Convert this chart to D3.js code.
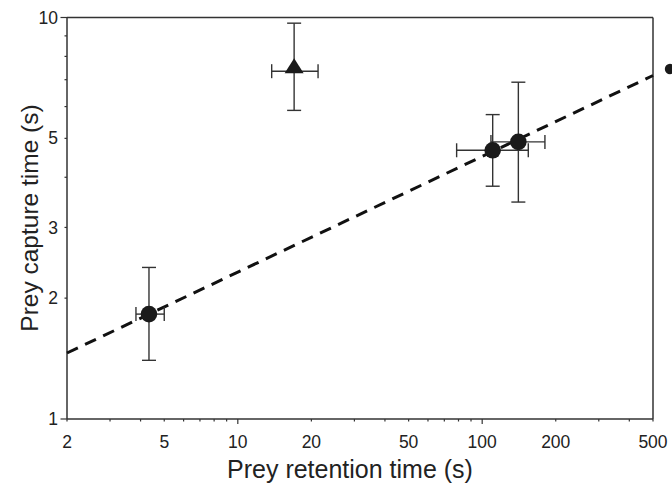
<!DOCTYPE html>
<html>
<head>
<meta charset="utf-8">
<script src="https://cdn.jsdelivr.net/npm/d3@7"></script>
<style>
  html, body { margin: 0; padding: 0; background: #fff; }
  svg { display: block; }
  text { font-family: "Liberation Sans", Arial, sans-serif; fill: #222; }
</style>
</head>
<body>
<svg id="chart" width="672" height="487"></svg>
<script>
// ---- data ----
const seriesNames = ["circle", "circle", "circle", "triangle"];
const retention = [4.33, 110.4, 140.6, 17.0];
const retentionLow = [3.83, 78.6, 108.6, 13.76];
const retentionHigh = [5.0, 154.4, 180.6, 21.3];
const capture = [1.825, 4.67, 4.90, 7.35];
const captureLow = [1.40, 3.80, 3.47, 5.87];
const captureHigh = [2.385, 5.73, 6.90, 9.68];
const fitX = [2, 500];
const fitY = [1.46, 7.17];
const xTickLabels = [2, 5, 10, 20, 50, 100, 200, 500];
const yTickLabels = [1, 2, 3, 5, 10];
const xTitle = "Prey retention time (s)";
const yTitle = "Prey capture time (s)";

// ---- layout ----
const svg = d3.select("#chart");
const L = 67, R = 653, T = 17.5, B = 419;
const x = d3.scaleLog().domain([2, 500]).range([L, R]);
const y = d3.scaleLog().domain([1, 10]).range([B, T]);
const axisColor = "#333";

// minor tick values
const xMinor = [];
[1, 10, 100].forEach(d => { for (let k = 2; k <= 9; k++) { const v = d * k; if (v >= 2 && v <= 500) xMinor.push(v); } });
const xMajor = [10, 100];
const yMinor = [2, 3, 4, 5, 6, 7, 8, 9];
const yMajor = [1, 10];

// frame top and right
svg.append("line").attr("x1", L).attr("x2", R).attr("y1", T).attr("y2", T)
  .attr("stroke", axisColor).attr("stroke-width", 1.5);
svg.append("line").attr("x1", R).attr("x2", R).attr("y1", T).attr("y2", B)
  .attr("stroke", axisColor).attr("stroke-width", 1.5);

// x axis
const gx = svg.append("g").attr("transform", `translate(0,${B})`);
gx.append("line").attr("x1", L).attr("x2", R).attr("stroke", axisColor).attr("stroke-width", 1.5);
gx.selectAll(".xmin").data(xMinor).join("line")
  .attr("x1", d => x(d)).attr("x2", d => x(d)).attr("y1", 0).attr("y2", 2.5)
  .attr("stroke", axisColor).attr("stroke-width", 1.2);
gx.selectAll(".xmaj").data(xMajor).join("line")
  .attr("x1", d => x(d)).attr("x2", d => x(d)).attr("y1", 0).attr("y2", 5)
  .attr("stroke", axisColor).attr("stroke-width", 1.2);
gx.selectAll(".xlab").data(xTickLabels).join("text")
  .attr("x", d => x(d)).attr("y", 29).attr("text-anchor", "middle")
  .attr("font-size", 17.5).text(d => d);

// y axis
const gy = svg.append("g").attr("transform", `translate(${L},0)`);
gy.append("line").attr("y1", T).attr("y2", B).attr("stroke", axisColor).attr("stroke-width", 1.5);
gy.selectAll(".ymin").data(yMinor).join("line")
  .attr("y1", d => y(d)).attr("y2", d => y(d)).attr("x1", 0).attr("x2", -2.5)
  .attr("stroke", axisColor).attr("stroke-width", 1.2);
gy.selectAll(".ymaj").data(yMajor).join("line")
  .attr("y1", d => y(d)).attr("y2", d => y(d)).attr("x1", 0).attr("x2", -6.5)
  .attr("stroke", axisColor).attr("stroke-width", 1.2);
gy.selectAll(".ylab").data(yTickLabels).join("text")
  .attr("x", -9).attr("y", d => y(d)).attr("dy", "0.35em").attr("text-anchor", "end")
  .attr("font-size", 17.5).text(d => d);

// titles
svg.append("text").attr("x", 350).attr("y", 478).attr("text-anchor", "middle")
  .attr("font-size", 25).text(xTitle);
svg.append("text").attr("transform", `translate(38,218) rotate(-90)`)
  .attr("text-anchor", "middle").attr("font-size", 24.5).text(yTitle);

// regression line
svg.append("line")
  .attr("x1", x(fitX[0])).attr("y1", y(fitY[0]))
  .attr("x2", x(fitX[1])).attr("y2", y(fitY[1]))
  .attr("stroke", "#111").attr("stroke-width", 3).attr("stroke-dasharray", "12,8");

// error bars & markers
const pts = retention.map((v, i) => ({
  shape: seriesNames[i], x: v, xl: retentionLow[i], xh: retentionHigh[i],
  y: capture[i], yl: captureLow[i], yh: captureHigh[i]
}));
const cap = 7;
const eg = svg.append("g").attr("stroke", "#333").attr("stroke-width", 1.4);
pts.forEach(p => {
  eg.append("line").attr("x1", x(p.x)).attr("x2", x(p.x)).attr("y1", y(p.yl)).attr("y2", y(p.yh));
  eg.append("line").attr("x1", x(p.x) - cap).attr("x2", x(p.x) + cap).attr("y1", y(p.yl)).attr("y2", y(p.yl));
  eg.append("line").attr("x1", x(p.x) - cap).attr("x2", x(p.x) + cap).attr("y1", y(p.yh)).attr("y2", y(p.yh));
  eg.append("line").attr("x1", x(p.xl)).attr("x2", x(p.xh)).attr("y1", y(p.y)).attr("y2", y(p.y));
  eg.append("line").attr("x1", x(p.xl)).attr("x2", x(p.xl)).attr("y1", y(p.y) - cap).attr("y2", y(p.y) + cap);
  eg.append("line").attr("x1", x(p.xh)).attr("x2", x(p.xh)).attr("y1", y(p.y) - cap).attr("y2", y(p.y) + cap);
});
const mg = svg.append("g");
pts.forEach(p => {
  if (p.shape === "circle") {
    mg.append("circle").attr("cx", x(p.x)).attr("cy", y(p.y)).attr("r", 8.3).attr("fill", "#1a1a1a");
  } else {
    const cx = x(p.x), cy = y(p.y);
    mg.append("path")
      .attr("d", `M${cx},${cy - 13} L${cx + 9.5},${cy + 2} L${cx - 9.5},${cy + 2} Z`)
      .attr("fill", "#1a1a1a");
  }
});

// legend symbol cut off at right edge
svg.append("circle").attr("cx", 670).attr("cy", 69).attr("r", 5.2).attr("fill", "#1a1a1a");
</script>
</body>
</html>
